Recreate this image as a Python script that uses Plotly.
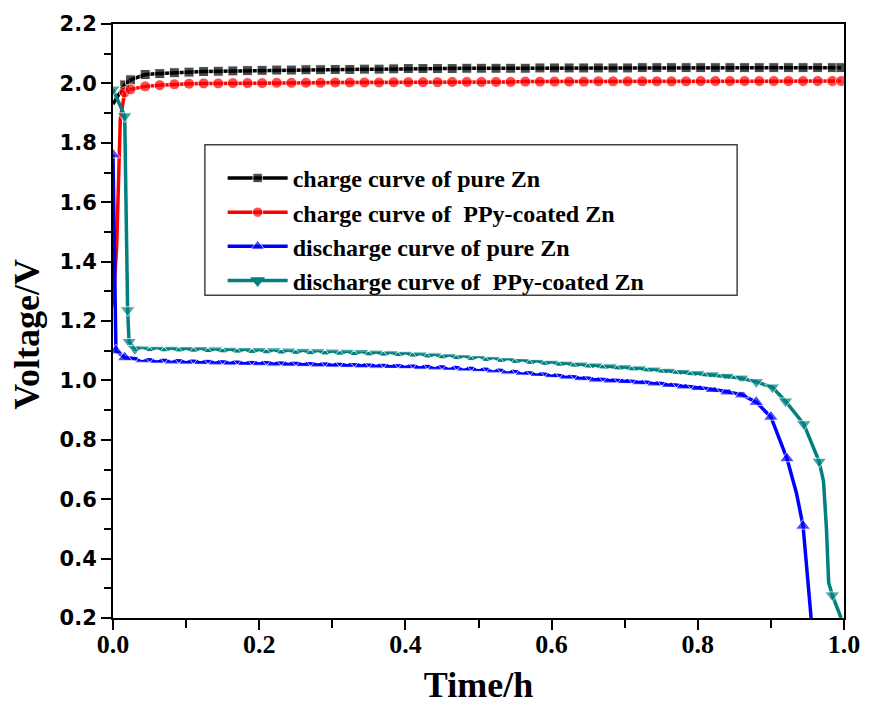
import plotly.graph_objects as go

# ---- charge curves (shared time grid, h) ----
charge_t = [0.0, 0.005, 0.01, 0.016, 0.024, 0.044, 0.064, 0.084, 0.104, 0.124,
            0.144, 0.164, 0.184, 0.204, 0.224, 0.244, 0.264, 0.284, 0.304, 0.324,
            0.344, 0.364, 0.384, 0.404, 0.424, 0.444, 0.464, 0.484, 0.504, 0.524,
            0.544, 0.564, 0.584, 0.604, 0.624, 0.644, 0.664, 0.684, 0.704, 0.724,
            0.744, 0.764, 0.784, 0.804, 0.824, 0.844, 0.864, 0.884, 0.904, 0.924,
            0.944, 0.964, 0.984, 0.996]
charge_pure = [1.93, 1.95, 1.97, 1.995, 2.012, 2.030, 2.033, 2.036, 2.038, 2.040,
               2.041, 2.042, 2.043, 2.044, 2.045, 2.045, 2.046, 2.046, 2.047, 2.047,
               2.048, 2.048, 2.049, 2.050, 2.050, 2.050, 2.050, 2.051, 2.051, 2.051,
               2.051, 2.051, 2.052, 2.052, 2.052, 2.052, 2.052, 2.052, 2.052, 2.053,
               2.053, 2.053, 2.053, 2.053, 2.053, 2.053, 2.053, 2.053, 2.053, 2.053,
               2.053, 2.053, 2.053, 2.053]
charge_ppy = [1.25, 1.45, 1.88, 1.970, 1.980, 1.990, 1.994, 1.997, 1.999, 2.000,
              2.000, 2.001, 2.001, 2.001, 2.002, 2.002, 2.002, 2.002, 2.003, 2.003,
              2.003, 2.003, 2.004, 2.004, 2.004, 2.004, 2.005, 2.005, 2.005, 2.005,
              2.005, 2.006, 2.006, 2.006, 2.006, 2.006, 2.007, 2.007, 2.007, 2.007,
              2.007, 2.007, 2.007, 2.008, 2.008, 2.008, 2.008, 2.008, 2.008, 2.008,
              2.008, 2.008, 2.008, 2.008]

# ---- discharge curves: plateau on a shared grid, plus start and end sections ----
plateau_t = [0.04, 0.06, 0.08, 0.10, 0.12, 0.14, 0.16, 0.18, 0.20, 0.22,
             0.24, 0.26, 0.28, 0.30, 0.32, 0.34, 0.36, 0.38, 0.40, 0.42,
             0.44, 0.46, 0.48, 0.50, 0.52, 0.54, 0.56, 0.58, 0.60, 0.62,
             0.64, 0.66, 0.68, 0.70, 0.72, 0.74, 0.76, 0.78, 0.80, 0.82,
             0.84, 0.86]
plateau_pure = [1.070, 1.068, 1.066, 1.065, 1.064, 1.063, 1.062, 1.061, 1.060, 1.059,
                1.058, 1.057, 1.056, 1.055, 1.054, 1.053, 1.052, 1.051, 1.050, 1.048,
                1.046, 1.044, 1.042, 1.040, 1.036, 1.032, 1.028, 1.024, 1.020, 1.015,
                1.010, 1.005, 1.002, 1.000, 0.996, 0.992, 0.987, 0.982, 0.977, 0.970,
                0.962, 0.952]
plateau_ppy = [1.105, 1.104, 1.104, 1.103, 1.103, 1.102, 1.101, 1.100, 1.100, 1.099,
               1.098, 1.097, 1.096, 1.095, 1.094, 1.093, 1.091, 1.089, 1.087, 1.085,
               1.082, 1.079, 1.076, 1.073, 1.070, 1.066, 1.063, 1.060, 1.057, 1.054,
               1.051, 1.048, 1.045, 1.042, 1.038, 1.034, 1.030, 1.026, 1.022, 1.018,
               1.013, 1.007]

pure_head_t = [0.0, 0.004, 0.016]
pure_head_v = [1.76, 1.10, 1.077]
pure_tail_t = [0.88, 0.90, 0.922, 0.935, 0.944, 0.948, 0.952, 0.955]
pure_tail_v = [0.927, 0.877, 0.737, 0.62, 0.51, 0.40, 0.30, 0.20]

ppy_head_t = [0.0, 0.016, 0.020, 0.022, 0.030]
ppy_head_v = [1.98, 1.89, 1.237, 1.13, 1.106]
ppy_tail_t = [0.88, 0.902, 0.92, 0.945, 0.966, 0.972, 0.976, 0.979, 0.984, 0.996]
ppy_tail_v = [0.995, 0.977, 0.93, 0.853, 0.727, 0.66, 0.50, 0.32, 0.277, 0.20]

dis_pure_t = pure_head_t + plateau_t + pure_tail_t
dis_pure_v = pure_head_v + plateau_pure + pure_tail_v
dis_ppy_t = ppy_head_t + plateau_t + ppy_tail_t
dis_ppy_v = ppy_head_v + plateau_ppy + ppy_tail_v

names = ["charge curve of pure Zn",
         "charge curve of  PPy-coated Zn",
         "discharge curve of pure Zn",
         "discharge curve of  PPy-coated Zn"]
colors = ["#000000", "#ff0000", "#0000ff", "#008080"]

LW = 3.5

# markers are left off the steep transition points
charge_sizes = [0 if t < 0.015 else 10 for t in charge_t]
pure_sizes = [0 if (v < 0.5 or (0.74 < v < 0.8) or v == 0.62) else 13 for v in dis_pure_v]
ppy_sizes = [0 if (v < 0.25 or 0.28 < v < 0.7) else 13 for v in dis_ppy_v]

fig = go.Figure()

fig.add_trace(go.Scatter(
    x=charge_t, y=charge_pure, name=names[0],
    mode="lines+markers", line=dict(color=colors[0], width=LW),
    marker=dict(symbol="square", size=charge_sizes, color=colors[0])))
fig.add_trace(go.Scatter(
    x=charge_t, y=charge_ppy, name=names[1],
    mode="lines+markers", line=dict(color=colors[1], width=LW),
    marker=dict(symbol="circle", size=[s + 1 if s else 0 for s in charge_sizes],
                color=colors[1])))
fig.add_trace(go.Scatter(
    x=dis_ppy_t, y=dis_ppy_v, name=names[3],
    mode="lines+markers", line=dict(color=colors[3], width=LW),
    marker=dict(symbol="triangle-down", size=ppy_sizes, color=colors[3]),
    showlegend=False))
fig.add_trace(go.Scatter(
    x=dis_pure_t, y=dis_pure_v, name=names[2],
    mode="lines+markers", line=dict(color=colors[2], width=LW),
    marker=dict(symbol="triangle-up", size=pure_sizes, color=colors[2])))
# legend entry for the coated-Zn discharge curve, listed last
fig.add_trace(go.Scatter(
    x=[None], y=[None], name=names[3],
    mode="lines+markers", line=dict(color=colors[3], width=LW),
    marker=dict(symbol="triangle-down", size=13, color=colors[3])))
# white dots running between the two discharge plateaus
fig.add_trace(go.Scatter(
    x=plateau_t, y=[(a + b) / 2 for a, b in zip(plateau_pure, plateau_ppy)],
    mode="markers", showlegend=False, hoverinfo="skip",
    marker=dict(symbol="circle", size=11, color="white")))

axis_common = dict(
    showline=True, linecolor="black", linewidth=2, mirror=True,
    ticks="outside", ticklen=10, tickwidth=2, tickcolor="black",
    showgrid=False, zeroline=False,
)

# legend frame
fig.add_shape(type="rect", xref="paper", yref="paper",
              x0=0.1257, x1=0.8538, y0=0.5433, y1=0.7967,
              line=dict(color="#444444", width=1.5), fillcolor="white", layer="above")

# y-axis title
fig.add_annotation(
    text="Voltage/V", xref="paper", yref="paper", x=-0.1175, y=0.477,
    textangle=-90, showarrow=False, xanchor="center", yanchor="middle",
    font=dict(family="Liberation Serif", size=36, color="black", weight="bold"))

fig.update_layout(
    width=872, height=710,
    margin=dict(l=113, r=27, t=23, b=87),
    paper_bgcolor="white", plot_bgcolor="white",
    showlegend=True,
    legend=dict(
        x=0.150, y=0.778, xanchor="left", yanchor="top",
        bgcolor="rgba(0,0,0,0)", borderwidth=0,
        font=dict(family="Liberation Serif", size=24, color="black", weight="bold"),
        itemwidth=60, traceorder="normal",
    ),
    xaxis=dict(
        range=[0, 1.0], tickvals=[0, 0.2, 0.4, 0.6, 0.8, 1.0],
        ticktext=["0.0", "0.2", "0.4", "0.6", "0.8", "1.0"],
        minor=dict(ticks="outside", ticklen=8, tickwidth=2, tickcolor="black", dtick=0.1),
        tickfont=dict(family="Liberation Serif", size=26, color="black", weight="bold"),
        ticklabelstandoff=-8,
        title=dict(text="Time/h", standoff=14,
                   font=dict(family="Liberation Serif", size=36, color="black", weight="bold")),
        **axis_common,
    ),
    yaxis=dict(
        range=[0.2, 2.2], tickvals=[0.2, 0.4, 0.6, 0.8, 1.0, 1.2, 1.4, 1.6, 1.8, 2.0, 2.2],
        ticktext=["0.2", "0.4", "0.6", "0.8", "1.0", "1.2", "1.4", "1.6", "1.8", "2.0", "2.2"],
        minor=dict(ticks="outside", ticklen=7, tickwidth=2, tickcolor="black", dtick=0.1),
        tickfont=dict(family="DejaVu Sans", size=21, color="black", weight="bold"),
        **axis_common,
    ),
)

fig.write_html("out.html")
